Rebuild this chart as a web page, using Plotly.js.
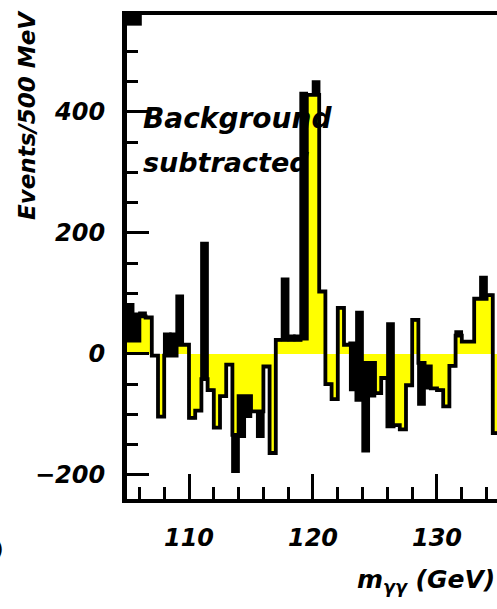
<!DOCTYPE html>
<html>
<head>
<meta charset="utf-8">
<script src="https://cdn.plot.ly/plotly-3.0.1.min.js"></script>
<style>html,body{margin:0;padding:0;background:#fff;}#chart{width:497px;height:609px;}</style>
</head>
<body>
<div id="chart"></div>
<script>
// Bin centres (GeV), 500 MeV bins
const binCenter = [105.25,105.75,106.25,106.75,107.25,107.75,108.25,108.75,109.25,109.75,
  110.25,110.75,111.25,111.75,112.25,112.75,113.25,113.75,114.25,114.75,
  115.25,115.75,116.25,116.75,117.25,117.75,118.25,118.75,119.25,119.75,
  120.25,120.75,121.25,121.75,122.25,122.75,123.25,123.75,124.25,124.75,
  125.25,125.75,126.25,126.75,127.25,127.75,128.25,128.75,129.25,129.75,
  130.25,130.75,131.25,131.75,132.25,132.75,133.25,133.75,134.25,134.75];
// Background-subtracted content of each bin (yellow histogram)
const subtracted = [22,22,62,60,-3,-104,-3,-3,15,15,
  -106,-94,-42,-60,-122,-70,-18,-134,-70,-70,
  -95,-95,-21,-164,23,23,23,23,25,428,
  428,103,-50,-75,76,15,17,-76,-15,-15,
  -65,-40,-120,-118,-125,-52,56,-15,-21,-57,
  -60,-87,-20,30,20,20,91,91,97,-131];
// Far end of the black band drawn from the yellow level
const blackEnd = [82,66,68,60,-3,-104,33,33,96,15,
  -106,-94,183,-60,-122,-70,-18,-195,-137,-104,
  -95,-137,-21,-164,23,124,30,30,431,428,
  450,103,-50,-75,76,15,-60,69,-161,-70,
  -65,-40,50,-118,-125,-52,56,-84,-57,-57,
  -60,-87,-20,37,20,20,91,127,97,-131];
const binWidth = 0.5;

// step outline through bin edges
const edgeX = binCenter.map(c => c - binWidth/2);
edgeX.push(binCenter[binCenter.length-1] + binWidth/2);
const edgeY = subtracted.slice();
edgeY.push(subtracted[subtracted.length-1]);

const blackBase = [], blackLen = [];
for (let i = 0; i < binCenter.length; i++) {
  blackBase.push(subtracted[i]);
  blackLen.push(blackEnd[i] - subtracted[i]);
}

const fontFam = 'DejaVu Sans, Arial, sans-serif';
const traces = [
  {type:'bar', x:binCenter, y:subtracted, width:binWidth,
   marker:{color:'#ffff00', line:{width:0}}, hoverinfo:'skip'},
  {type:'scatter', mode:'lines', x:edgeX, y:edgeY, line:{shape:'hv', color:'#000', width:3.8}, hoverinfo:'skip'},
  {type:'bar', x:binCenter, y:blackLen, base:blackBase, width:binWidth,
   marker:{color:'#000', line:{width:2.5, color:'#000'}}, hoverinfo:'skip'}
];

const tickFont = {family:fontFam, size:24, color:'#000', weight:'bold', style:'italic'};
const layout = {
  width:497, height:609,
  margin:{l:127, r:0, t:15, b:110},
  paper_bgcolor:'#fff', plot_bgcolor:'#fff',
  showlegend:false, barmode:'overlay', bargap:0,
  xaxis:{range:[105,134.84], tick0:0, dtick:10, ticks:'inside', ticklen:25, tickwidth:3, tickcolor:'#000',
    minor:{dtick:2, tick0:0, ticks:'inside', ticklen:12, tickwidth:3, tickcolor:'#000', showgrid:false},
    showline:true, linewidth:4, linecolor:'#000', mirror:true, showgrid:false, zeroline:false,
    tickfont:tickFont, ticklabelstandoff:14},
  yaxis:{range:[-240,560], tick0:0, dtick:200, ticks:'inside', ticklen:22, tickwidth:3, tickcolor:'#000',
    minor:{dtick:50, tick0:0, ticks:'inside', ticklen:11, tickwidth:3, tickcolor:'#000', showgrid:false},
    showline:true, linewidth:5, linecolor:'#000', showgrid:false, zeroline:false,
    tickfont:tickFont, ticklabelstandoff:12},
  shapes:[
    {type:'rect', xref:'paper', yref:'paper', x0:0, x1:0.04, y0:0.978, y1:1, fillcolor:'#000', line:{width:0}}
  ],
  annotations:[
    {text:'<b><i>Background</i></b>', xref:'x', yref:'paper', x:106.1, y:(499-119)/484, xanchor:'left', yanchor:'middle',
     showarrow:false, font:{family:fontFam, size:28, color:'#000'}},
    {text:'<b><i>subtracted</i></b>', xref:'x', yref:'paper', x:106.1, y:(499-162)/484, xanchor:'left', yanchor:'middle',
     showarrow:false, font:{family:fontFam, size:27, color:'#000'}},
    {text:'<b><i>Events/500 MeV</i></b>', xref:'paper', yref:'paper', x:(27-127)/370, y:(499-115)/484, textangle:-90,
     xanchor:'center', yanchor:'middle', showarrow:false, font:{family:fontFam, size:23, color:'#000'}},
    {text:'<b><i>m<sub>γγ</sub> (GeV)</i></b>', xref:'paper', yref:'paper', x:1, y:(499-581)/484, xanchor:'right', yanchor:'middle',
     showarrow:false, font:{family:fontFam, size:25, color:'#000'}},
    {text:')', xref:'paper', yref:'paper', x:(6-127)/370, y:(499-548)/484, xanchor:'right', yanchor:'middle',
     showarrow:false, font:{family:fontFam, size:22, color:'#000'}}
  ]
};
Plotly.newPlot('chart', traces, layout, {staticPlot:true, displayModeBar:false});
</script>
</body>
</html>
